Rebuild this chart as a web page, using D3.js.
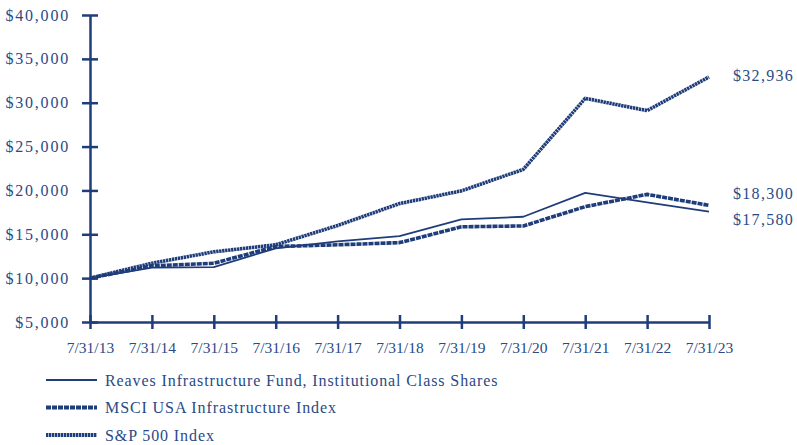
<!DOCTYPE html>
<html>
<head>
<meta charset="utf-8">
<script src="https://cdn.jsdelivr.net/npm/d3@7"></script>
<style>
  body { margin: 0; background: #fff; }
  svg text { font-family: "Liberation Serif", "Times New Roman", serif; fill: #2a4a85; }
</style>
</head>
<body>
<svg id="chart" width="797" height="445"></svg>
<script>
// dates on the x axis
const dates = ['7/31/13', '7/31/14', '7/31/15', '7/31/16', '7/31/17', '7/31/18',
               '7/31/19', '7/31/20', '7/31/21', '7/31/22', '7/31/23'];

// growth of $10,000
const fundValues = [10000, 11200, 11250, 13400, 14200, 14800, 16700, 17000, 19720, 18650, 17580];
const msciValues = [10000, 11400, 11700, 13600, 13800, 14050, 15850, 15950, 18150, 19550, 18300];
const spValues   = [10000, 11700, 13000, 13800, 16000, 18500, 19950, 22400, 30500, 29100, 32936];

const seriesNames = ['Reaves Infrastructure Fund, Institutional Class Shares',
                     'MSCI USA Infrastructure Index', 'S&P 500 Index'];
const yTicks = [5000, 10000, 15000, 20000, 25000, 30000, 35000, 40000];

const navy = '#1f3d7a';
const svg = d3.select('#chart');

let x = d3.scalePoint().domain(dates).range([90, 709]);
let y = d3.scaleLinear().domain([5000, 40000]).range([322, 15]);
const fmt = d => '$' + d3.format(',')(d);

// y axis
let yAxis = svg.append('g')
    .attr('transform', 'translate(90,0)')
    .call(d3.axisLeft(y).tickValues(yTicks).tickFormat(fmt).tickSize(8).tickSizeOuter(0).tickPadding(12));
yAxis.selectAll('.tick line').attr('x1', -8).attr('x2', 8);
yAxis.selectAll('.tick text').style('font-size', '16px').style('letter-spacing', '1.8px');

// x axis
let xAxis = svg.append('g')
    .attr('transform', 'translate(0,322)')
    .call(d3.axisBottom(x).tickSize(7).tickSizeOuter(0).tickPadding(13));
xAxis.selectAll('.tick line').attr('y1', -7).attr('y2', 7);
xAxis.selectAll('.tick text').style('font-size', '15.5px');

svg.selectAll('.domain, .tick line').attr('stroke', navy).attr('stroke-width', 2.5);
svg.selectAll('.tick text').attr('fill', '#2a4a85');

// lines
const styles = [
    { values: fundValues, width: 1.8, dash: null },
    { values: msciValues, width: 3.6, dash: '5,1' },
    { values: spValues, width: 3.6, dash: '2.4,0.6' }
];

let line = d3.line().x((d, i) => x(dates[i])).y(d => y(d));

styles.forEach(s => {
    svg.append('path')
        .datum(s.values)
        .attr('fill', 'none')
        .attr('stroke', navy)
        .attr('stroke-width', s.width)
        .attr('stroke-dasharray', s.dash)
        .attr('stroke-linejoin', 'round')
        .attr('d', line);
});

// end labels
const endLabels = [
    { v: spValues[10], dy: -2 },
    { v: msciValues[10], dy: -12 },
    { v: fundValues[10], dy: 8 }
];
endLabels.forEach(l => {
    svg.append('text')
        .attr('x', 733)
        .attr('y', y(l.v) + l.dy)
        .attr('dy', '0.35em')
        .style('font-size', '16px')
        .style('letter-spacing', '1.3px')
        .text(fmt(l.v));
});

// legend
let legend = svg.append('g');
const legendY = [380, 407.5, 435];
styles.forEach((s, i) => {
    legend.append('line')
        .attr('x1', 46).attr('x2', 97)
        .attr('y1', legendY[i]).attr('y2', legendY[i])
        .attr('stroke', navy)
        .attr('stroke-width', i === 0 ? 2 : 4)
        .attr('stroke-dasharray', s.dash);
    legend.append('text')
        .attr('x', 105)
        .attr('y', legendY[i])
        .attr('dy', '0.35em')
        .style('font-size', '16px')
        .style('letter-spacing', '0.9px')
        .text(seriesNames[i]);
});
</script>
</body>
</html>
